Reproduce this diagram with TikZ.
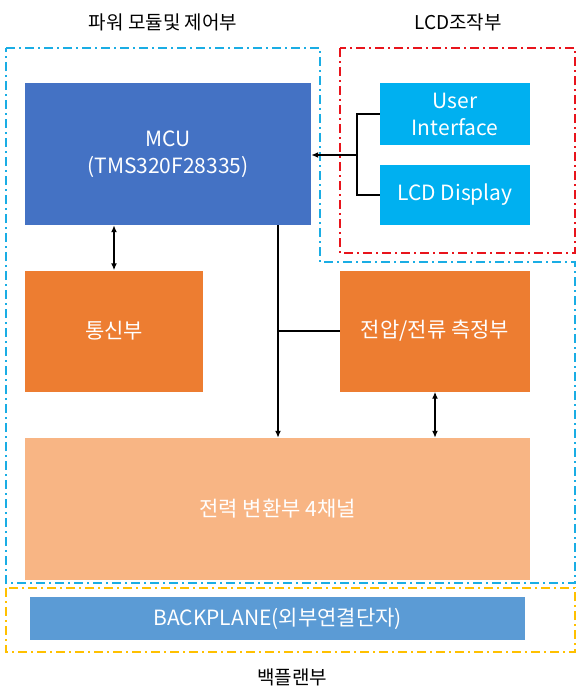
\documentclass[tikz,border=0pt]{standalone}
\usepackage{fontspec}
\setmainfont{Noto Sans CJK KR}
\usetikzlibrary{arrows.meta}

\definecolor{mcublue}{HTML}{4472C4}
\definecolor{lcdcyan}{HTML}{00B0F0}
\definecolor{unitorange}{HTML}{ED7D31}
\definecolor{convpeach}{HTML}{F8B584}
\definecolor{bpblue}{HTML}{5B9BD5}
\definecolor{frameblue}{HTML}{1AADE4}
\definecolor{framered}{HTML}{E8141C}
\definecolor{frameyellow}{HTML}{FFC000}

\tikzset{
  box/.style={inner sep=0pt, text=white, align=center, font=\fontsize{21}{27}\selectfont},
  title/.style={font=\fontsize{19}{22}\selectfont},
  frame/.style={line width=2.2pt, dash pattern=on 9pt off 4pt on 2pt off 4pt},
  link/.style={line width=1.8pt, black},
  tip/.style={-{Latex[length=7pt,width=6pt]}},
  tips/.style={{Latex[length=7pt,width=6pt]}-{Latex[length=7pt,width=6pt]}}
}

\begin{document}
\begin{tikzpicture}[x=1pt, y=-1pt]
\useasboundingbox (0,0) rectangle (586,698);

% group frames
\draw[frame, frameblue] (6,48) -- (320,48) -- (320,262) -- (575,262) -- (575,583) -- (6,583) -- cycle;
\draw[frame, framered] (340,48) rectangle (575,253);
\draw[frame, frameyellow] (6,588) rectangle (575,652);

% group titles
\node[title] (ctrltitle) at (163,22) {파워 모듈및 제어부};
\node[title] (lcdtitle) at (458,22) {LCD조작부};
\node[title] (bptitle) at (292,677) {백플랜부};

% blocks
\node[box, fill=mcublue, minimum width=286pt, minimum height=142pt] (mcu) at (168,154) {MCU\\(TMS320F28335)};
\node[box, fill=lcdcyan, minimum width=150pt, minimum height=62pt] (ui) at (455,114) {User\\Interface};
\node[box, fill=lcdcyan, minimum width=150pt, minimum height=60pt] (lcd) at (455,195) {LCD Display};
\node[box, fill=unitorange, minimum width=178pt, minimum height=121pt] (comm) at (114,331) {통신부};
\node[box, fill=unitorange, minimum width=190pt, minimum height=121pt] (meas) at (435,331) {전압/전류 측정부};
\node[box, fill=convpeach, minimum width=505pt, minimum height=142pt] (conv) at (277.5,509) {전력 변환부 4채널};
\node[box, fill=bpblue, minimum width=495pt, minimum height=43pt] (bp) at (277.5,618.5) {BACKPLANE(외부연결단자)};

% connectors
\coordinate (uibus) at (357,155);
\coordinate (mainbus) at (278,331);
\draw[link] (ui.west) -| (uibus) |- (lcd.west);
\draw[link, tip] (uibus) -- (uibus -| mcu.east);
\draw[link, tips] (mcu.south -| comm.north) -- (comm.north);
\draw[link, tip] (mainbus |- mcu.south) -- (mainbus |- conv.north);
\draw[link] (mainbus) -- (meas.west);
\draw[link, tips] (meas.south) -- (meas.south |- conv.north);

\end{tikzpicture}
\end{document}
